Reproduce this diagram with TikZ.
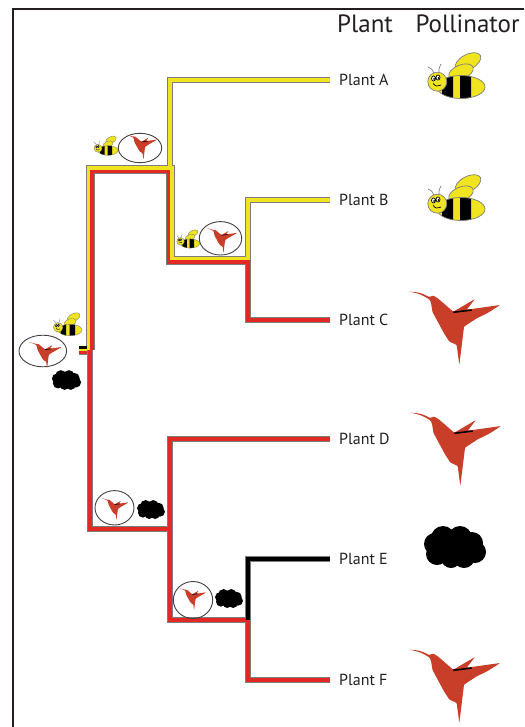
\documentclass[tikz,border=0pt]{standalone}
\usepackage{fontspec}
\setmainfont{PT Sans}
\definecolor{beeyellow}{RGB}{240,228,30}
\definecolor{brred}{RGB}{228,40,36}
\definecolor{brgray}{RGB}{125,125,125}
\definecolor{birdred}{RGB}{200,62,40}
\definecolor{ink}{RGB}{35,31,32}
\tikzset{
  outline/.style={brgray, line width=5.5},
  ybr/.style={beeyellow, line width=3.5},
  rbr/.style={brred, line width=3.5},
  kbr/.style={black, line width=3.5},
  plant/.style={anchor=west, inner xsep=9pt, text=ink, font=\fontsize{16}{16}\selectfont},
  head/.style={anchor=base, text=ink, font=\fontsize{25}{25}\selectfont},
  ring/.style={draw=ink!85, line width=.9},
  beeline/.style={line width=.7},
  wingline/.style={line width=1.6},
  small icon/.style={beeline/.style={line width=.35}, wingline/.style={line width=.6}},
  bird/.pic={
    \fill[birdred, rounded corners=.8] (-45,-38.3) .. controls (-35,-37.5) .. (-25.7,-33)
      -- (-21.7,-34.5) -- (-17,-31.5) -- (-1.7,-18.3) -- (20,-31) -- (11.7,-20.3)
      -- (45,-25) .. controls (33,-17) .. (21.7,-11.7) -- (9,-3.3) -- (8.5,1) -- (4.3,35) -- (1.7,15)
      -- (-5.7,11.5) -- (-11,3.3) -- (-22.5,-18) -- (-24,-27.3) -- (-25.7,-30.7)
      .. controls (-35,-36) .. cycle;
    \draw[black, wingline] (-1.7,-17.7) -- (16.7,-20);
  },
  bee/.pic={
    \filldraw[fill=beeyellow, draw=brgray, beeline, rotate around={28:(7,-25)}] (7,-25) ellipse (14 and 7.5);
    \filldraw[fill=beeyellow, draw=brgray, beeline, rotate around={22:(0,-15)}] (0,-15) ellipse (13 and 7);
    \fill[beeyellow] (0,0) ellipse (24 and 11.5);
    \begin{scope}
      \clip (0,0) ellipse (24 and 11.5);
      \fill[black] (-19,-12) rectangle (-8,12) (-1,-12) rectangle (10,12);
    \end{scope}
    \draw[brgray, beeline] (0,0) ellipse (24 and 11.5);
    \filldraw[fill=beeyellow, draw=brgray, beeline] (-23.7,-5.3) circle (9.5);
    \filldraw[fill=white, draw=black, beeline] (-27.5,-8.5) ellipse (2 and 2.6) (-23,-9.5) ellipse (2 and 2.6);
    \fill[black] (-26.8,-8) circle (1) (-22.3,-9) circle (1);
    \draw[black, beeline] (-28,-3.5) .. controls (-25,-.5) .. (-20,-2);
    \draw[brgray, beeline] (-27,-13.5) .. controls (-29,-18) .. (-33,-20)
      (-22,-14.5) .. controls (-22,-19) .. (-20,-23);
  },
  blob/.pic={
    \fill[black] (-12,-9) circle (12) (5,-9) circle (12) (17,-4) circle (11)
      (20,5) circle (11) (9,10) circle (11) (-4,11) circle (10) (-18,7) circle (11)
      (-20,-3) circle (11) (0,0) circle (15);
  }
}
\begin{document}
\begin{tikzpicture}[x=1pt, y=-1pt]
  \useasboundingbox (0,0) rectangle (524,727);
  \draw[ink, line width=1.1] (13,727) -- (13,9) -- (524,9);

  \node[head] (hPlant) at (365,33) {Plant};
  \node[head] (hPoll) at (467.5,33) {Pollinator};

  % tree nodes and tips
  \coordinate (r0) at (79,350);
  \coordinate (r) at (90,350);
  \coordinate (u) at (170,170);
  \coordinate (bc) at (248,260);
  \coordinate (l) at (170,529);
  \coordinate (ef) at (248,620);
  \node[plant] (pA) at (330,80) {Plant A};
  \node[plant] (pB) at (330,200) {Plant B};
  \node[plant] (pC) at (330,320) {Plant C};
  \node[plant] (pD) at (330,439) {Plant D};
  \node[plant] (pE) at (330,559) {Plant E};
  \node[plant] (pF) at (330,680) {Plant F};

  \begin{scope}[outline]
    \draw (u) |- (pA.west);
    \draw (bc) |- (pB.west);
    \draw (bc) |- (pC.west);
    \draw (r) |- (l);
    \draw (l) |- (pD.west);
    \draw (l) |- (ef);
    \draw (ef) |- (pE.west);
    \draw (ef) |- (pF.west);
    \draw[line width=9] (r) |- (u) |- (bc);
    \draw[line width=9] (r0) -- (r);
  \end{scope}

  \draw[black, line width=2.4] ([yshift=2.4]r0) -- ([xshift=-3,yshift=2.4]r);
  \draw[beeyellow, line width=2.4] (r0) -- ([xshift=-3]r);
  \draw[brred, line width=2.4] ([yshift=-2.4]r0) -- ([xshift=-3,yshift=-2.4]r);
  \draw[brred, line width=7] (r) |- (u) |- (bc);
  \draw[beeyellow, line width=3.5] ([xshift=-1.75]r) |- ([shift={(1.75,-1.75)}]u) |- ([shift={(1.75,-1.75)}]bc);
  \draw[ybr] (u) |- (pA.west);
  \draw[ybr] (bc) |- (pB.west);
  \draw[rbr] (bc) |- (pC.west);
  \draw[rbr] (r) |- (l);
  \draw[rbr] (l) |- (pD.west);
  \draw[rbr] (l) |- (ef);
  \draw[kbr] (ef) |- (pE.west);
  \draw[rbr] (ef) |- (pF.west);

  % pollinators
  \pic at (461,87) {bee};
  \pic at (461,209) {bee};
  \pic at (455,330) {bird};
  \pic at (456,451) {bird};
  \pic at (455,547) {blob};
  \pic at (455,688) {bird};

  % ancestral states
  \pic[scale=.5, small icon] at (70,330) {bee};
  \draw[ring] (42.8,351) ellipse (23.8 and 15.8);
  \pic[scale=.36, small icon] at (45.5,356) {bird};
  \pic[scale=.47] at (66.5,380) {blob};

  \pic[scale=.42, small icon] at (108,150.5) {bee};
  \draw[ring] (140,148) ellipse (21.7 and 14.7);
  \pic[scale=.34, small icon] at (142,148) {bird};

  \pic[scale=.4, small icon] at (190,243.5) {bee};
  \draw[ring] (220.5,238.3) ellipse (21.2 and 16.7);
  \pic[scale=.34, small icon] at (222,241.3) {bird};

  \draw[ring] (114.5,507.8) ellipse (19.5 and 17.2);
  \pic[scale=.3, small icon] at (115.2,509.8) {bird};
  \pic[scale=.45] at (151,509.5) {blob};

  \draw[ring] (193,600) ellipse (19.7 and 18.5);
  \pic[scale=.3, small icon] at (192.8,599.8) {bird};
  \pic[scale=.45] at (229,598.5) {blob};
\end{tikzpicture}
\end{document}
